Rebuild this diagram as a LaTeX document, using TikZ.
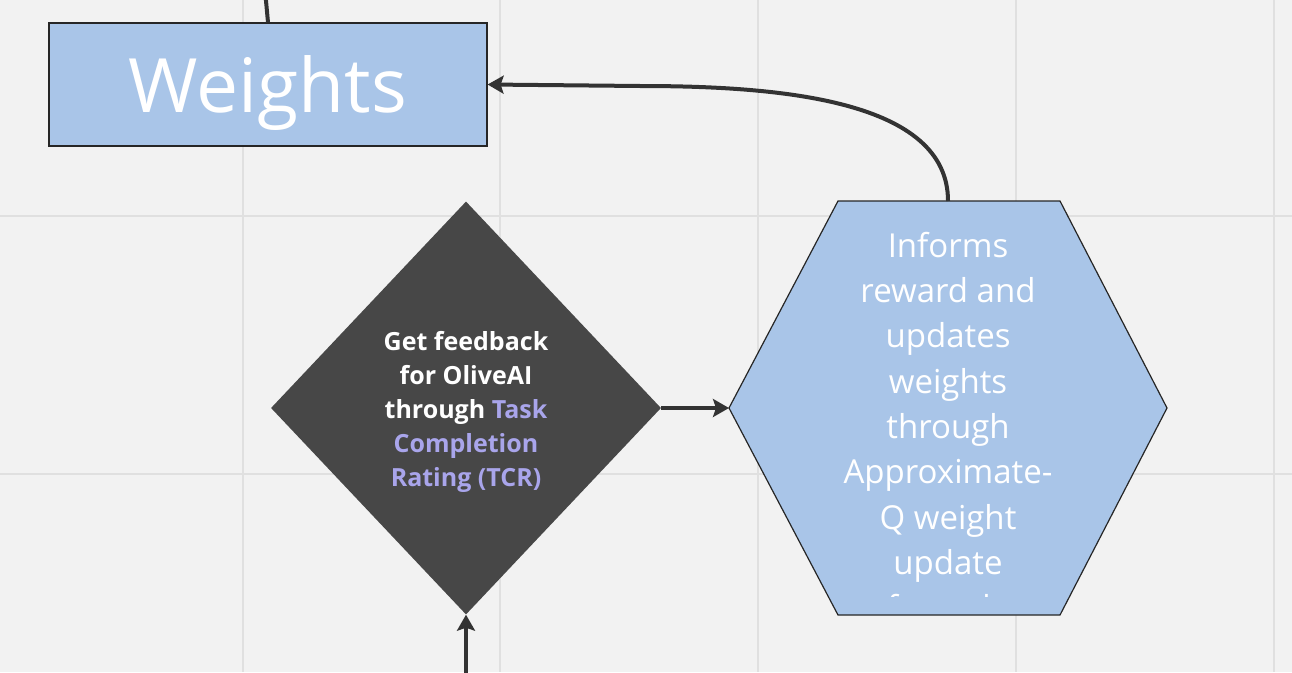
\documentclass[tikz,border=0pt]{standalone}
\usepackage{fontspec}
\setmainfont{Open Sans}
\usetikzlibrary{
  arrows.meta,
  shapes.geometric,
}
\definecolor{canvasBg}{HTML}{F2F2F2}
\definecolor{gridGray}{HTML}{E0E0E0}
\definecolor{blockBlue}{HTML}{A9C5E8}
\definecolor{diamondDark}{HTML}{474747}
\definecolor{tcrPurple}{HTML}{A9A5EB}
\definecolor{linkDark}{HTML}{333333}
\tikzset{
  gridLine/.style={draw=gridGray, line width=2pt},
  titleBox/.style={
    rectangle, draw=black!85, line width=1.2pt, fill=blockBlue,
    inner sep=0pt, minimum width=438pt, minimum height=123pt,
    text=white, text depth=0pt, font=\fontsize{75}{90}\selectfont,
  },
  decisionBox/.style={
    diamond, draw=none, fill=diamondDark, inner sep=0pt,
    minimum width=390pt, minimum height=413pt,
  },
  decisionText/.style={
    text=white, align=center, inner sep=0pt,
    font=\fontsize{25}{34}\selectfont\bfseries,
  },
  hexHolder/.style={
    rectangle, inner sep=0pt, outer sep=0pt,
    minimum width=438pt, minimum height=414pt,
  },
  hexFrame/.style={draw=black!85, line width=1.2pt, fill=blockBlue},
  hexText/.style={
    text=white, align=center, inner sep=0pt,
    font=\fontsize{33}{45.3}\selectfont,
  },
  arrowLink/.style={
    -{Stealth[length=16pt,width=18pt,inset=3pt]}, line width=4pt,
    draw=linkDark,
  },
  plainLink/.style={line width=4pt, draw=linkDark},
}

\begin{document}
\begin{tikzpicture}[x=1pt,y=-1pt]

\useasboundingbox[fill=canvasBg] (0,0) rectangle (1292,672);
\foreach \gx in {243,500,758,1016,1274}
  \draw[gridLine] (\gx,0) -- (\gx,672);
\foreach \gy in {216,474}
  \draw[gridLine] (0,\gy) -- (1292,\gy);

\node[titleBox] (wts) at (268,84.5) {Weights};

\node[decisionBox] (tcr) at (466,408) {};
\node[decisionText] (tcrText) at (466,412) {%
  Get feedback\\
  for OliveAI\\
  through \textcolor{tcrPurple}{Task}\\
  \textcolor{tcrPurple}{Completion}\\
  \textcolor{tcrPurple}{Rating (TCR)}%
};

\node[hexHolder] (upd) at (948,408) {};
\draw[hexFrame] (upd.west) -- ([xshift=109pt]upd.north west)
  -- ([xshift=-107pt]upd.north east) -- (upd.east)
  -- ([xshift=-107pt]upd.south east) -- ([xshift=109pt]upd.south west)
  -- cycle;
\begin{scope}
  \clip (729,201) rectangle (1167,596);
  \node[hexText] (updText) at (948,426) {%
    Informs\\reward and\\updates\\weights\\through\\Approximate-\\
    Q weight\\update\\formula%
  };
\end{scope}

\coordinate (fromAbove) at (265,-10);
\coordinate (fromBelow) at (466,690);

\draw[plainLink] (fromAbove) -- (wts.north);
\draw[arrowLink] (fromBelow) -- (tcr.south);
\draw[arrowLink] (tcr.east) -- (upd.west);
\draw[arrowLink] (upd.north) .. controls (948,100) and (780,86) .. (640,86)
  -- (wts.east);

\end{tikzpicture}
\end{document}
